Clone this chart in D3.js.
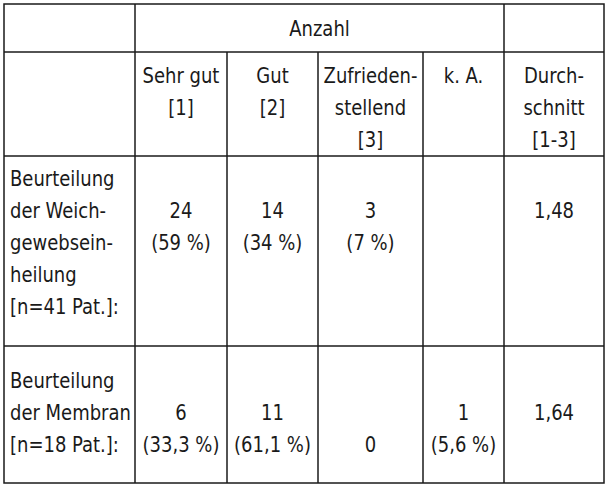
<!DOCTYPE html>
<html><head><meta charset="utf-8">
<script src="https://cdn.jsdelivr.net/npm/d3@7"></script>
<style>body{margin:0;background:#fff}</style>
</head><body>
<div id="tbl"></div>
<script>
const colHeads = [["Sehr gut","[1]"],["Gut","[2]"],["Zufrieden-","stellend","[3]"],["k. A."],["Durch-","schnitt","[1-3]"]];
const rowHeads = [["Beurteilung","der Weich-","gewebsein-","heilung","[n=41 Pat.]:"],["Beurteilung","der Membran","[n=18 Pat.]:"]];
const row1 = [["24","(59 %)"],["14","(34 %)"],["3","(7 %)"],[],["1,48"]];
const row2 = [["6","(33,3 %)"],["11","(61,1 %)"],["0"],["1","(5,6 %)"],["1,64"]];
const row1Start = [210,210,210,210,210];
const row2Start = [412,412,444,412,412];

const colX = [4,135,227,318,423,504,604];
const rowY = [4,52,156,346,483];
const lh = 32;
const sx = 0.93;

const svg = d3.select('#tbl').append('svg').attr('width',608).attr('height',489)
const g = svg.append('g').style('font-family','"DejaVu Sans Condensed",sans-serif').style('font-size','21.5px').attr('fill','#1a1a1a')

svg.append('rect').attr('x',colX[0]).attr('y',rowY[0]).attr('width',colX[6]-colX[0]).attr('height',rowY[4]-rowY[0])
  .attr('fill','none').attr('stroke','#1a1a1a').attr('stroke-width',1.5)
rowY.slice(1,4).forEach(y=>{
  svg.append('line').attr('x1',colX[0]).attr('x2',colX[6]).attr('y1',y).attr('y2',y).attr('stroke','#1a1a1a').attr('stroke-width',1.5)
})
colX.slice(1,6).forEach((x,i)=>{
  // inner header columns only start below the "Anzahl" row
  const y1 = (i>=1 && i<=3) ? rowY[1] : rowY[0]
  svg.append('line').attr('x1',x).attr('x2',x).attr('y1',y1).attr('y2',rowY[4]).attr('stroke','#1a1a1a').attr('stroke-width',1.5)
})

function lines(x,yc,arr,anchor){
  arr.forEach((t,i)=>{
    g.append('text').attr('transform',`translate(${x},${yc+i*lh}) scale(${sx},1)`)
      .attr('dy','0.35em').attr('text-anchor',anchor||'middle').text(t)
  })
}
lines((colX[1]+colX[5])/2,28,["Anzahl"])
colHeads.forEach((h,i)=>lines((colX[i+1]+colX[i+2])/2,75,h))
lines(10,178,rowHeads[0],'start')
lines(10,380,rowHeads[1],'start')
row1.forEach((c,i)=>lines((colX[i+1]+colX[i+2])/2,row1Start[i],c))
row2.forEach((c,i)=>lines((colX[i+1]+colX[i+2])/2,row2Start[i],c))
</script>
</body></html>
